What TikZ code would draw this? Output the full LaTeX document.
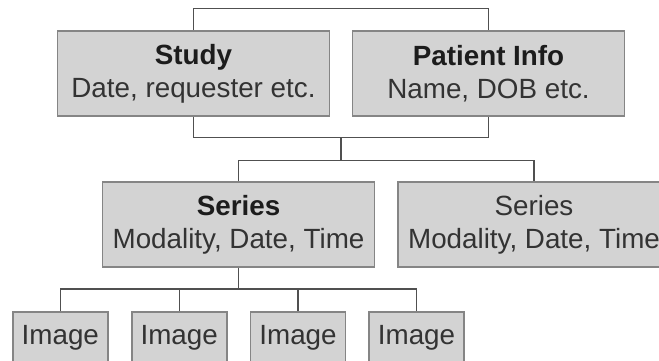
\documentclass[tikz,border=0pt]{standalone}
\usepackage{fontspec}
\setmainfont{Liberation Sans}
\definecolor{boxfill}{HTML}{D3D3D3}
\definecolor{boxedge}{HTML}{858585}
\definecolor{linkcol}{HTML}{505050}
\definecolor{txtcol}{HTML}{333333}
\definecolor{headcol}{HTML}{1C1C1C}
\tikzset{
  infobox/.style={draw=boxedge, line width=1.6pt, fill=boxfill, align=center,
    minimum width=272pt, minimum height=85pt, inner sep=0pt, text=txtcol,
    font=\fontsize{27.8}{33}\selectfont},
  imgbox/.style={infobox, minimum width=95pt, minimum height=52pt},
  link/.style={draw=linkcol, line width=1.3pt}
}
\newcommand{\boxhead}[1]{\textcolor{headcol}{\bfseries #1}}
\begin{document}
\begin{tikzpicture}[x=1pt,y=-1pt]
  \useasboundingbox (0,0) rectangle (659,360);
  % top level: study and patient record
  \node[infobox] (study) at (193.5,73.5) {\boxhead{Study}\\Date, requester etc.};
  \node[infobox] (patient) at (488.5,73.5) {\boxhead{Patient Info}\\Name, DOB etc.};
  % series level
  \node[infobox] (s1) at (238.5,224.5) {\boxhead{Series}\\Modality, Date, Time};
  \node[infobox] (s2) at (534,224.5) {Series\\Modality, Date, Time};
  % image level
  \node[imgbox] (i1) at (60.3,337.7) {Image};
  \node[imgbox] (i2) at (179.2,337.7) {Image};
  \node[imgbox] (i3) at (298,337.7) {Image};
  \node[imgbox] (i4) at (416.5,337.7) {Image};
  % junction points
  \coordinate (j1) at (341,137.5);
  \coordinate (j2) at (341,160.7);
  \coordinate (j3) at (238.5,289);
  % links between study and patient
  \draw[link] (study.north) -- ++(0,-22) -| (patient.north);
  \draw[link] (study.south) |- (j1) -| (patient.south);
  \draw[link] (j1) -- (j2);
  % links down to the series
  \draw[link] (s1.north) |- (j2) -| (s2.north);
  % links down to the images
  \draw[link] (s1.south) -- (j3);
  \draw[link] (i1.north) |- (j3) -| (i4.north);
  \draw[link] (i2.north) -- (i2.north |- j3);
  \draw[link] (i3.north) -- (i3.north |- j3);
\end{tikzpicture}
\end{document}
